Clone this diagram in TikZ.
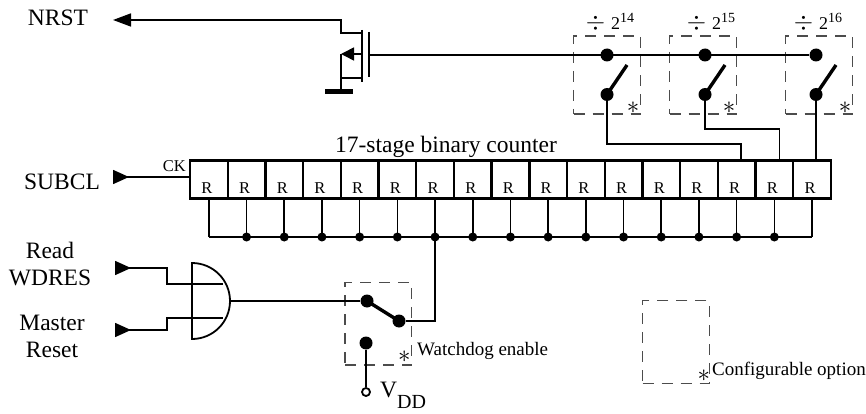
\documentclass[tikz,border=0pt]{standalone}
\usepackage{fontspec}
\setmainfont{Liberation Serif}
\usetikzlibrary{arrows.meta,calc}

\begin{document}
\begin{tikzpicture}[x=1pt,y=-1pt,
  wire/.style={line width=1.6pt},
  cellbox/.style={draw,line width=2.4pt,minimum width=37.7pt,minimum height=37.6pt,inner sep=0pt},
  optbox/.style={draw=black!70,line width=1.2pt,dash pattern=on 11pt off 8pt,inner sep=0pt},
  jdot/.style={circle,fill,inner sep=0pt,minimum size=9pt},
  cdot/.style={circle,fill,inner sep=0pt,minimum size=13pt},
  odot/.style={circle,draw,line width=1.8pt,inner sep=0pt,minimum size=8pt},
  lever/.style={line width=3.4pt},
  txtbig/.style={font=\fontsize{23.5}{27}\selectfont,inner sep=0pt},
  txtsmall/.style={font=\fontsize{19}{22}\selectfont,inner sep=0pt},
  txtcell/.style={font=\fontsize{16.5}{18}\selectfont,inner sep=0pt},
  txtast/.style={font=\fontsize{30}{30}\selectfont,inner sep=0pt},
  intip/.style={{Triangle[reversed,length=16pt,width=14pt]}-},
]
\def\cw{37.7}
\useasboundingbox (0,0) rectangle (866,414);

% compteur à 17 étages
\coordinate (busy) at (0,237);
\foreach \i in {1,...,17} {
  \node[cellbox] (c\i) at ({190+\cw*(\i-0.5)},179.5) {};
  \node[txtcell] (r\i) at ($(c\i.center)+(-2,9)$) {R};
  \coordinate (b\i) at (c\i |- busy);
  \draw[wire] (c\i.south) -- (b\i);
}
\draw[wire] (b1) -- (b17);
\foreach \i in {2,...,16} \node[jdot] (j\i) at (b\i) {};
\node[txtbig,anchor=base] (cntlbl) at (446,153) {17-stage binary counter};
\node[txtcell,anchor=base east] (ck) at (186,171.5) {CK};

% entrée horloge
\node[txtbig] (subcl) at (62,182) {SUBCL};
\coordinate (subin) at (113,177);
\draw[wire,intip] (subin) -- (c1.west |- subin);

% sélecteurs 2^14, 2^15, 2^16
\foreach \k/\x/\bx/\lx/\e in {1/607/607/610/14, 2/705/703/711/15, 3/816/819/818/16} {
  \node[optbox,minimum width=67pt,minimum height=78pt] (ob\k) at (\bx,75) {};
  \node[cdot] (sa\k) at (\x,55) {};
  \node[cdot] (sb\k) at (\x,94.5) {};
  \coordinate (lv\k) at (\x+20,65);
  \draw[lever] (sb\k.center) -- (lv\k);
  \node[txtast] (ast\k) at ($(ob\k.south east)+(-8,-7)$) {$\ast$};
  \node[font=\fontsize{18}{20}\selectfont] (div\k) at (\lx,22)
    {{\fontsize{28}{28}\selectfont$\div$}\,\,2\raisebox{7pt}{\fontsize{14}{14}\selectfont\e}};
}
\draw[wire] (c15.north -| 740.7,0) -- ++(0,-15.7) -| (sb1);
\draw[wire] (c16.north -| 779.3,0) -- ++(0,-30.7) -| (sb2);
\draw[wire] (sb3 |- c17.north) -- (sb3);

% transistor de sortie
\coordinate (gt) at (369,55);
\coordinate (nrstin) at (113,20);
\draw[wire,-{Triangle[length=18pt,width=13pt]}] (362,33) -- (341,33) -- (341,20) -- (nrstin);
\draw[wire] (362,30) -- (362,82);
\draw[wire] (369,32) -- (369,77);
\draw[wire,-{Triangle[length=13pt,width=13pt]}] (362,54) -- (341,54);
\draw[wire] (341,54) -- (341,92);
\draw[wire] (341,78) -- (362,78);
\draw[line width=5pt] (325,92) -- (353,92);
\draw[wire] (gt) -- (sa3);
\node[txtbig] (nrst) at (58,18) {NRST};

% porte ET
\draw[line width=1.8pt] (192,263) arc[start angle=90,end angle=-90,radius=38pt] -- cycle;
\coordinate (gout) at (230,301);
\coordinate (rdin) at (115,268);
\coordinate (mrin) at (115,330);
\draw[wire,intip] (rdin) -- (167,268) |- (223,284);
\draw[wire,intip] (mrin) -- (167,330) |- (223,318);
\node[txtbig,align=center] (rdres) at (50,264) {Read\\WDRES};
\node[txtbig,align=center] (mreset) at (52,336) {Master\\Reset};

% chien de garde
\node[optbox,minimum width=66.7pt,minimum height=82.3pt] (wdbox) at (378.4,323.9) {};
\node[cdot] (wdl) at (367,301) {};
\node[cdot] (wdr) at (399,321) {};
\draw[lever] (wdl.center) -- (wdr.center);
\node[cdot] (wdv) at (366,343) {};
\node[odot] (vdd) at (366,392) {};
\draw[wire] (wdv) -- (vdd);
\draw[wire] (gout) -- (wdl);
\draw[wire] (b7) |- (wdr);
\node[txtast] (wdast) at ($(wdbox.south east)+(-8,-9)$) {$\ast$};
\node[txtsmall,anchor=base west] (wdtxt) at (417,355) {Watchdog enable};
\node[txtbig,anchor=base west] (vddlbl) at (380,397)
  {V\raisebox{-11pt}{\fontsize{20}{22}\selectfont DD}};

% légende
\node[optbox,minimum width=66.7pt,minimum height=82.3pt] (lgbox) at (676,342) {};
\node[txtast] (lgast) at ($(lgbox.south east)+(-6,-8)$) {$\ast$};
\node[txtsmall,anchor=base west] (lgtxt) at (712,375) {Configurable option};
\end{tikzpicture}
\end{document}
